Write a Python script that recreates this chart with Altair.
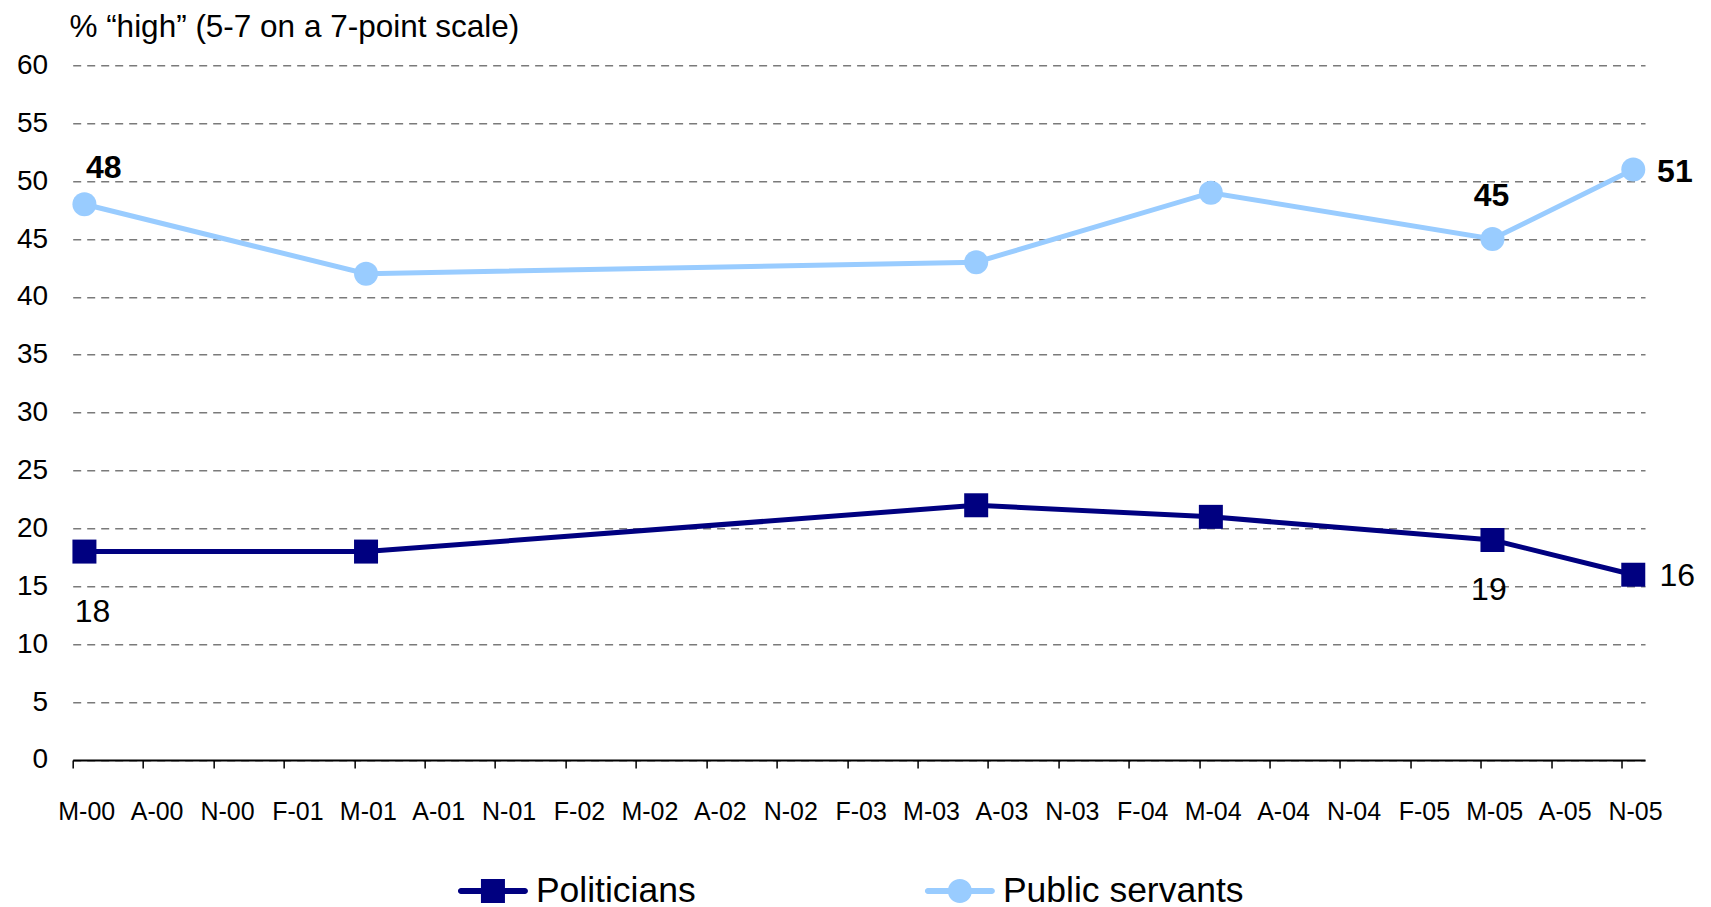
import altair as alt
import pandas as pd

# ---------------- data ----------------
months = [0, 12, 38, 48, 60, 66]          # month index from May 2000
politicians = [18, 18, 22, 21, 19, 16]
public_servants = [48, 42, 43, 49, 45, 51]
series_names = ["Politicians", "Public servants"]
tick_labels = ["M-00", "A-00", "N-00", "F-01", "M-01", "A-01", "N-01", "F-02",
               "M-02", "A-02", "N-02", "F-03", "M-03", "A-03", "N-03", "F-04",
               "M-04", "A-04", "N-04", "F-05", "M-05", "A-05", "N-05"]
y_title = "% \u201chigh\u201d (5-7 on a 7-point scale)"

rows = []
for i, (m, p, s) in enumerate(zip(months, politicians, public_servants)):
    rows.append({"month": m, "value": p, "series": series_names[0], "idx": i})
    rows.append({"month": m, "value": s, "series": series_names[1], "idx": i})
df = pd.DataFrame(rows)

# ---------------- style ----------------
FONT = "Liberation Sans"
NAVY = "#000080"
LIGHT = "#99CCFF"
W = 1572.5
H = 694.7
slot = W / 67.0

x_scale = alt.Scale(domain=[-0.5, 66.5], nice=False, zero=False)
y_scale = alt.Scale(domain=[0, 60], nice=False)

tick_vals = [-0.5 + 3 * k for k in range(len(tick_labels))]
label_js = "[" + ",".join("'%s'" % t for t in tick_labels) + "]"

x_axis = alt.Axis(
    values=tick_vals,
    labelExpr=label_js + "[round((datum.value + 0.5) / 3)]",
    title=None, grid=False,
    domainColor="black", domainWidth=2,
    tickColor="black", tickWidth=1.5, tickSize=8,
    labelOffset=slot / 2 + 1.8, labelPadding=52, labelBaseline="alphabetic",
    labelFontSize=25, labelFont=FONT, labelColor="black",
    labelFlush=False, labelOverlap=False, zindex=1,
)
y_axis = alt.Axis(
    values=list(range(0, 61, 5)),
    title=y_title, titleAngle=0, titleAlign="left", titleBaseline="alphabetic",
    titleX=-3.8, titleY=-28.5, titleFontSize=31.5, titleFontWeight="normal",
    titleFont=FONT, titleColor="black",
    grid=True, gridColor="#7a7a7a", gridDash=[8, 6], gridWidth=1.5,
    domain=False, ticks=False, tickSize=0, labelPadding=25,
    labelFontSize=28, labelFont=FONT, labelColor="black",
)

base = alt.Chart(df).encode(
    x=alt.X("month:Q", scale=x_scale, axis=x_axis),
    y=alt.Y("value:Q", scale=y_scale, axis=y_axis),
)

f_p = alt.datum.series == series_names[0]
f_s = alt.datum.series == series_names[1]

line_p = base.transform_filter(f_p).mark_line(color=NAVY, strokeWidth=5)
line_s = base.transform_filter(f_s).mark_line(color=LIGHT, strokeWidth=5)
pts_p = base.transform_filter(f_p).mark_point(shape="square", filled=True, size=576,
                                              color=NAVY, opacity=1)
pts_s = base.transform_filter(f_s).mark_point(shape="circle", filled=True, size=576,
                                              color=LIGHT, opacity=1)

# legend symbols: line + marker (unit coords scaled by sqrt(size)/2 = 35 px)
t = 0.0857
m = 0.343
bar = ("M-%.4f,-%.4f L%.4f,-%.4f A%.4f,%.4f 0 0,1 %.4f,%.4f L-%.4f,%.4f "
       "A%.4f,%.4f 0 0,1 -%.4f,-%.4f Z" % (1 - t, t, 1 - t, t, t, t, 1 - t, t, 1 - t, t,
                                           t, t, 1 - t, t))
path_p = bar + " M-%.3f,-%.3f L%.3f,-%.3f L%.3f,%.3f L-%.3f,%.3f Z" % (m, m, m, m, m, m, m, m)
path_s = bar + " M-%.3f,0 A%.3f,%.3f 0 1,1 %.3f,0 A%.3f,%.3f 0 1,1 -%.3f,0 Z" % (m, m, m, m, m, m, m)

leg = alt.Legend(
    title=None, orient="none", legendX=385.3, legendY=790.5, direction="horizontal",
    symbolSize=4900, symbolStrokeWidth=0, symbolOpacity=1,
    labelFontSize=35.5, labelFont=FONT, labelColor="black", labelOffset=8,
    labelLimit=600, columnPadding=228, padding=0,
)
legend_layer = base.transform_filter("false").mark_point(
    filled=True, opacity=1, size=4900
).encode(
    color=alt.Color("series:N", scale=alt.Scale(domain=series_names, range=[NAVY, LIGHT]),
                    legend=leg),
    shape=alt.Shape("series:N", scale=alt.Scale(domain=series_names, range=[path_p, path_s]),
                    legend=leg),
)

# data labels (idx, series filter, dx, dy, weight)
label_specs = [
    (0, f_s, 19.4, -26, "bold"),
    (4, f_s, -1, -33, "bold"),
    (5, f_s, 41.6, 12.2, "bold"),
    (0, f_p, 8, 70, "normal"),
    (4, f_p, -3.6, 60, "normal"),
    (5, f_p, 44, 11.2, "normal"),
]
text_layers = []
for idx, flt, dx, dy, wt in label_specs:
    text_layers.append(
        base.transform_filter(flt).transform_filter(alt.datum.idx == idx)
        .mark_text(align="center", baseline="alphabetic", dx=dx, dy=dy,
                   fontSize=32, font=FONT, fontWeight=wt, color="black")
        .encode(text=alt.Text("value:Q"))
    )

chart = alt.layer(line_s, line_p, pts_s, pts_p, legend_layer, *text_layers).properties(
    width=W, height=H,
    autosize=alt.AutoSizeParams(type="none"),
    padding={"left": 64.7, "top": 57.3, "right": 58, "bottom": 152},
    background="white",
).configure_view(stroke=None)

chart.save("out.html", embed_options={"renderer": "svg", "actions": False})
